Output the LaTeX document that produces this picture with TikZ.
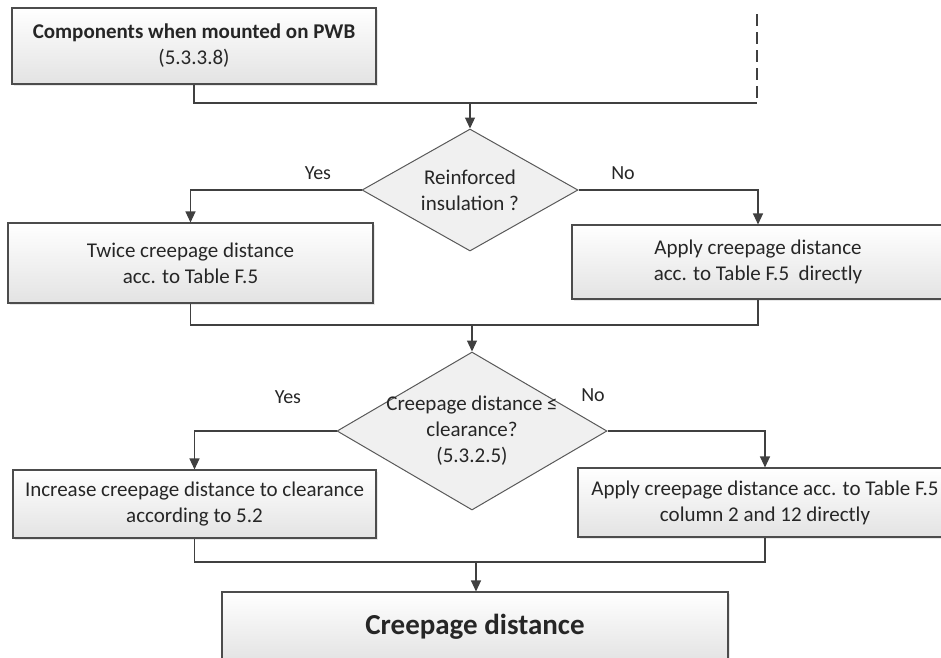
\documentclass[tikz,border=0pt]{standalone}
\usepackage{fontspec}
\setmainfont{Carlito}
\usepackage{tikz}
\usetikzlibrary{shapes.geometric,arrows.meta,shadows}

\begin{document}
\begin{tikzpicture}[
  x=1pt, y=-1pt,
  every node/.style={font=\fontsize{21}{26}\selectfont, text=black!85},
  box/.style={rectangle, draw=black!70, line width=1.1pt,
              top color=white, bottom color=black!11,
              drop shadow={opacity=0.18, shadow xshift=2pt, shadow yshift=-2pt},
              align=center, inner sep=2pt},
  decision/.style={diamond, draw=black!65, line width=1pt, fill=black!6,
                   inner sep=0pt},
  flow/.style={draw=black!75, line width=1.2pt},
  arr/.style={flow, -{Triangle[length=11pt,width=10pt]}},
  ans/.style={font=\fontsize{20}{24}\selectfont},
]
\clip (0,0) rectangle (941,657);

%% ── entry box and outside branch ─────────────────────────────────────
\node[box, minimum width=364pt, minimum height=76pt] (comp) at (194,46)
  {\textbf{Components when mounted on PWB}\\(5.3.3.8)};
\coordinate (ext) at (757,14);
\coordinate (j1)  at (470,103);

%% ── first decision ───────────────────────────────────────────────────
\node[decision, minimum width=216pt, minimum height=122pt] (d1) at (470,190) {};
\node[align=center] (d1txt) at (d1.center) {Reinforced\\insulation ?};
\node[ans] (yes1) at (318,173) {Yes};
\node[ans] (no1)  at (623,173) {No};

\node[box, minimum width=365pt, minimum height=80pt] (box2) at (190.5,263)
  {Twice creepage distance\\acc. to Table F.5};
\node[box, minimum width=372pt, minimum height=74pt] (box3) at (758,262)
  {Apply creepage distance\\acc. to Table F.5~~directly};
\coordinate (j2) at (472,325);

%% ── second decision ──────────────────────────────────────────────────
\node[decision, minimum width=270pt, minimum height=158pt] (d2) at (472,431) {};
\node[align=center] (d2txt) at (d2.center)
  {Creepage distance ≤\\clearance?\\(5.3.2.5)};
\node[ans] (yes2) at (288,397) {Yes};
\node[ans] (no2)  at (593,395) {No};

\node[box, minimum width=363pt, minimum height=68pt] (box4) at (194.5,504)
  {Increase creepage distance to clearance\\according to 5.2};
\node[box, minimum width=374pt, minimum height=69pt] (box5) at (765,502.5)
  {Apply creepage distance acc. to Table F.5\\column 2 and 12 directly};
\coordinate (j3) at (476,562);

%% ── result ───────────────────────────────────────────────────────────
\node[box, minimum width=506pt, minimum height=70pt,
      font=\fontsize{29}{34}\selectfont\bfseries] (box6) at (475,627)
  {Creepage distance};

%% ── connectors ───────────────────────────────────────────────────────
\draw[flow] (comp.south) |- (ext |- j1);
\draw[flow, dash pattern=on 12pt off 6pt] (ext) -- (ext |- j1);
\draw[arr] (j1) -- (d1.north);
\draw[arr] (d1.west) -| (box2.north);
\draw[arr] (d1.east) -| (box3.north);
\draw[flow] (box2.south) |- (j2) -| (box3.south);
\draw[arr] (j2) -- (d2.north);
\draw[arr] (d2.west) -| (box4.north);
\draw[arr] (d2.east) -| (box5.north);
\draw[flow] (box4.south) |- (j3) -| (box5.south);
\draw[arr] (j3) -- (j3 |- box6.north);

\end{tikzpicture}
\end{document}
